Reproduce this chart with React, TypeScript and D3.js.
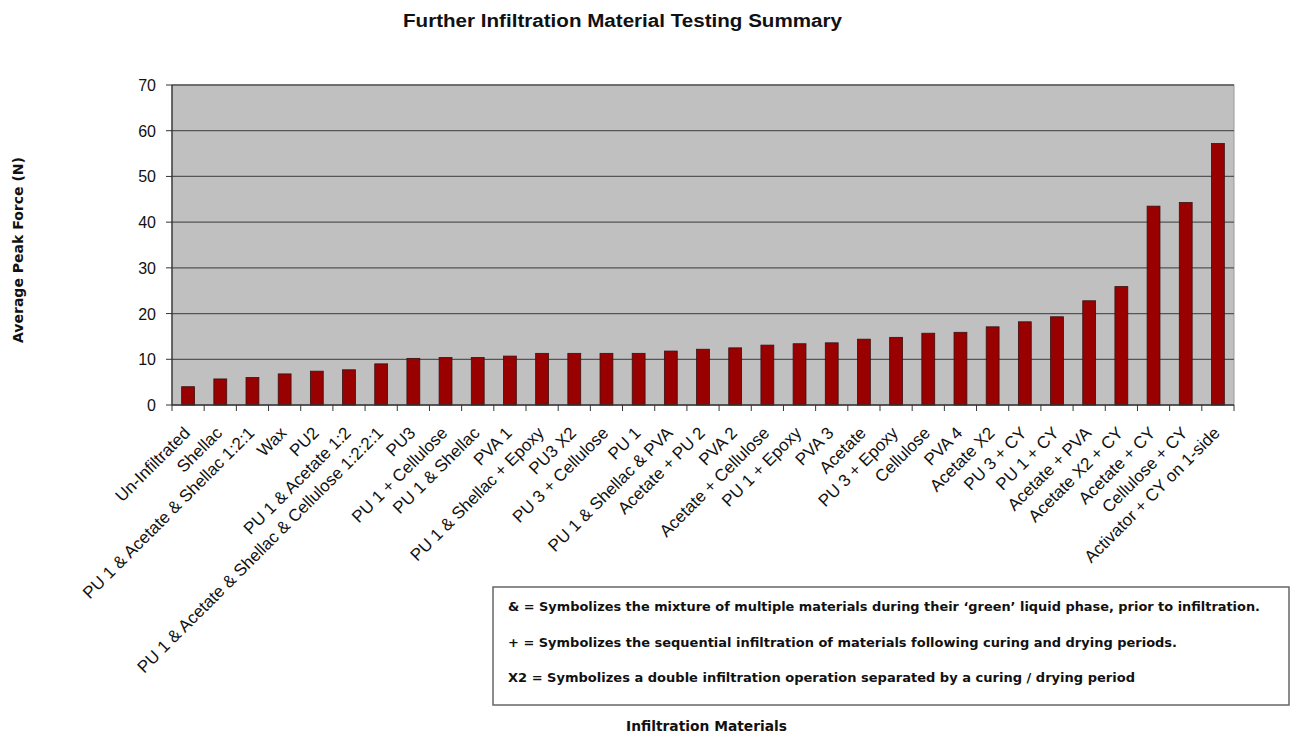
import React from "react";
import * as d3 from "d3";

const categories = [
  "Un-Infiltrated",
  "Shellac",
  "PU 1 & Acetate & Shellac 1:2:1",
  "Wax",
  "PU2",
  "PU 1 & Acetate 1:2",
  "PU 1 & Acetate & Shellac & Cellulose 1:2:2:1",
  "PU3",
  "PU 1 + Cellulose",
  "PU 1 & Shellac",
  "PVA 1",
  "PU 1 & Shellac + Epoxy",
  "PU3 X2",
  "PU 3 + Cellulose",
  "PU 1",
  "PU 1 & Shellac & PVA",
  "Acetate + PU 2",
  "PVA 2",
  "Acetate + Cellulose",
  "PU 1 + Epoxy",
  "PVA 3",
  "Acetate",
  "PU 3 + Epoxy",
  "Cellulose",
  "PVA 4",
  "Acetate X2",
  "PU 3 + CY",
  "PU 1 + CY",
  "Acetate + PVA",
  "Acetate X2 + CY",
  "Acetate + CY",
  "Cellulose + CY",
  "Activator + CY on 1-side",
];

const peakForce = [
  4.0, 5.7, 6.0, 6.8, 7.4, 7.7, 9.0, 10.2, 10.4, 10.4, 10.7, 11.3, 11.3, 11.3,
  11.3, 11.8, 12.2, 12.5, 13.1, 13.4, 13.6, 14.4, 14.8, 15.7, 15.9, 17.1, 18.2,
  19.3, 22.8, 25.9, 43.5, 44.3, 57.2,
];

const yTicks = [0, 10, 20, 30, 40, 50, 60, 70];

const notes = [
  "& = Symbolizes the mixture of multiple materials during their \u2018green\u2019 liquid phase, prior to infiltration.",
  "+ = Symbolizes the sequential infiltration of materials following curing and drying periods.",
  "X2 = Symbolizes a double infiltration operation separated by a curing / drying period",
];
const noteWidths = [752, 669, 627];

const W = 1292;
const H = 734;
const PLOT = { left: 172, right: 1234, top: 85, bottom: 405 };

export default function App() {
  const x = d3
    .scaleBand()
    .domain(categories)
    .range([PLOT.left, PLOT.right])
    .paddingInner(0.6)
    .paddingOuter(0.3);
  const y = d3.scaleLinear().domain([0, 70]).range([PLOT.bottom, PLOT.top]);
  const step = x.step();
  const font = "'Liberation Sans', Arial, sans-serif";
  const boldFont = "'DejaVu Sans', Verdana, sans-serif";

  return (
    <svg
      width={W}
      height={H}
      style={{ position: "absolute", left: 0, top: 0, background: "#fff" }}
      fontFamily={font}
    >
      {/* title */}
      <text
        x={403}
        y={27}
        fontSize={18}
        fontWeight="bold"
        fill="#111"
        textLength={439}
        lengthAdjust="spacingAndGlyphs"
      >
        Further Infiltration  Material  Testing Summary
      </text>

      {/* plot area */}
      <rect
        x={PLOT.left}
        y={PLOT.top}
        width={PLOT.right - PLOT.left}
        height={PLOT.bottom - PLOT.top}
        fill="#c0c0c0"
        stroke="#9a9a9a"
      />
      {yTicks.map((t) => (
        <g key={t}>
          {t > 0 && (
            <line x1={PLOT.left} x2={PLOT.right} y1={y(t)} y2={y(t)} stroke="#555" strokeWidth={1.3} />
          )}
          <line x1={PLOT.left - 6} x2={PLOT.left} y1={y(t)} y2={y(t)} stroke="#333" />
          <text x={PLOT.left - 16} y={y(t) + 6} textAnchor="end" fontSize={16} fill="#111">
            {t}
          </text>
        </g>
      ))}

      {/* bars */}
      {categories.map((c, i) => (
        <rect
          key={c}
          x={x(c)}
          y={y(peakForce[i])}
          width={x.bandwidth()}
          height={y(0) - y(peakForce[i])}
          fill="#990000"
          stroke="#3a1010"
          strokeWidth={0.8}
        />
      ))}

      {/* axes */}
      <line x1={PLOT.left} x2={PLOT.left} y1={PLOT.top} y2={PLOT.bottom} stroke="#333" strokeWidth={1.3} />
      <line x1={PLOT.left} x2={PLOT.right} y1={PLOT.bottom} y2={PLOT.bottom} stroke="#333" strokeWidth={1.3} />
      {d3.range(categories.length + 1).map((i) => (
        <line
          key={i}
          x1={PLOT.left + i * step}
          x2={PLOT.left + i * step}
          y1={PLOT.bottom}
          y2={PLOT.bottom + 6}
          stroke="#333"
        />
      ))}
      {categories.map((c) => {
        const cx = (x(c) ?? 0) + x.bandwidth() / 2 + 3;
        return (
          <text
            key={c}
            transform={`translate(${cx},${PLOT.bottom + 29}) rotate(-45)`}
            textAnchor="end"
            fontSize={17}
            fill="#111"
          >
            {c}
          </text>
        );
      })}

      {/* axis titles */}
      <text
        transform={`translate(23,250) rotate(-90)`}
        textAnchor="middle"
        fontSize={14}
        fontWeight="bold"
        fontFamily={boldFont}
        textLength={186}
        lengthAdjust="spacingAndGlyphs"
        fill="#111"
      >
        Average Peak Force (N)
      </text>
      <text
        x={626}
        y={731}
        fontSize={14}
        fontWeight="bold"
        fontFamily={boldFont}
        textLength={161}
        lengthAdjust="spacingAndGlyphs"
        fill="#111"
      >
        Infiltration Materials
      </text>

      {/* notes box */}
      <rect x={493} y={587} width={796} height={118} fill="#fff" stroke="#666" strokeWidth={1.5} />
      {notes.map((n, i) => (
        <text
          key={i}
          x={508}
          y={611 + i * 35.5}
          fontSize={13}
          fontWeight="bold"
          fontFamily={boldFont}
          textLength={noteWidths[i]}
          lengthAdjust="spacingAndGlyphs"
          fill="#111"
        >
          {n}
        </text>
      ))}
    </svg>
  );
}
